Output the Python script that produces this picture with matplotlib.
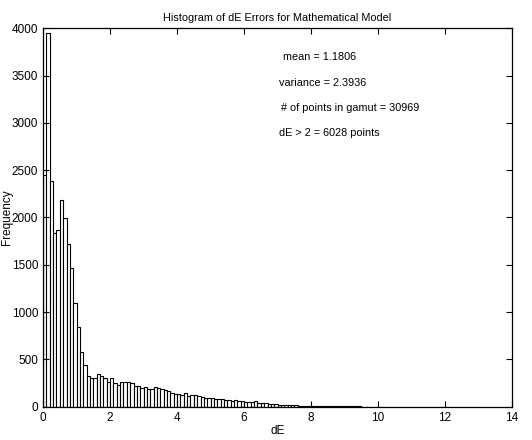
import numpy as np
import matplotlib
matplotlib.use("Agg")
import matplotlib.pyplot as plt

plt.rcParams['font.family'] = ['Liberation Sans', 'DejaVu Sans']

# histogram of dE, bins of width 0.1 starting at 0
bin_width = 0.1
counts = [
    2450, 3950, 2386, 1835, 1868, 2184, 1998, 1720, 1466, 1096,
    846, 581, 441, 320, 307, 307, 342, 328, 300, 258,
    300, 247, 233, 265, 258, 265, 247, 215, 220, 194,
    205, 187, 187, 205, 194, 187, 176, 169, 141, 134,
    134, 123, 141, 112, 123, 120, 112, 106, 88, 92,
    88, 85, 81, 78, 71, 71, 63, 71, 63, 60,
    49, 49, 46, 60, 42, 35, 35, 32, 28, 25,
    22, 20, 18, 16, 15, 13, 12, 10, 10, 9,
    8, 7, 7, 6, 6, 5, 5, 5, 4, 4,
    4, 3, 3, 3, 3, 2, 2, 2, 2, 2,
    2, 1, 1, 1, 1, 1, 1, 1, 1, 1,
    1, 1, 1, 1, 0, 1, 0, 1, 0, 0,
    1, 0, 0, 1, 0, 0, 0, 1, 0, 0,
]
edges = np.arange(len(counts)) * bin_width

stats_lines = [
    ("mean = 1.1806", 7.15, 3697),
    ("variance = 2.3936", 7.04, 3420),
    ("# of points in gamut = 30969", 7.1, 3157),
    ("dE > 2 = 6028 points", 7.04, 2892),
]

fig = plt.figure(figsize=(5.32, 4.4), dpi=100)
ax = fig.add_axes([0.081, 0.0757, 0.8815, 0.86])

ax.bar(edges, counts, width=bin_width, align='edge',
       facecolor='white', edgecolor='black', linewidth=0.8)

ax.set_xlim(0, 14)
ax.set_ylim(0, 4000)
ax.set_xticks(range(0, 15, 2))
ax.set_yticks(range(0, 4001, 500))
ax.tick_params(direction='in', top=True, right=True, labelsize=8.5,
               length=4, width=0.8)
for s in ax.spines.values():
    s.set_linewidth(0.9)

ax.set_title("Histogram of dE Errors for Mathematical Model", fontsize=7.8, pad=5)
ax.set_xlabel("dE", fontsize=8.5, labelpad=1)
ax.set_ylabel("Frequency", fontsize=8.5)
ax.yaxis.set_label_coords(-0.064, 0.5)

for txt, x, y in stats_lines:
    ax.text(x, y, txt, fontsize=7.8, va='center', ha='left')

fig.savefig("out.png", dpi=100)
